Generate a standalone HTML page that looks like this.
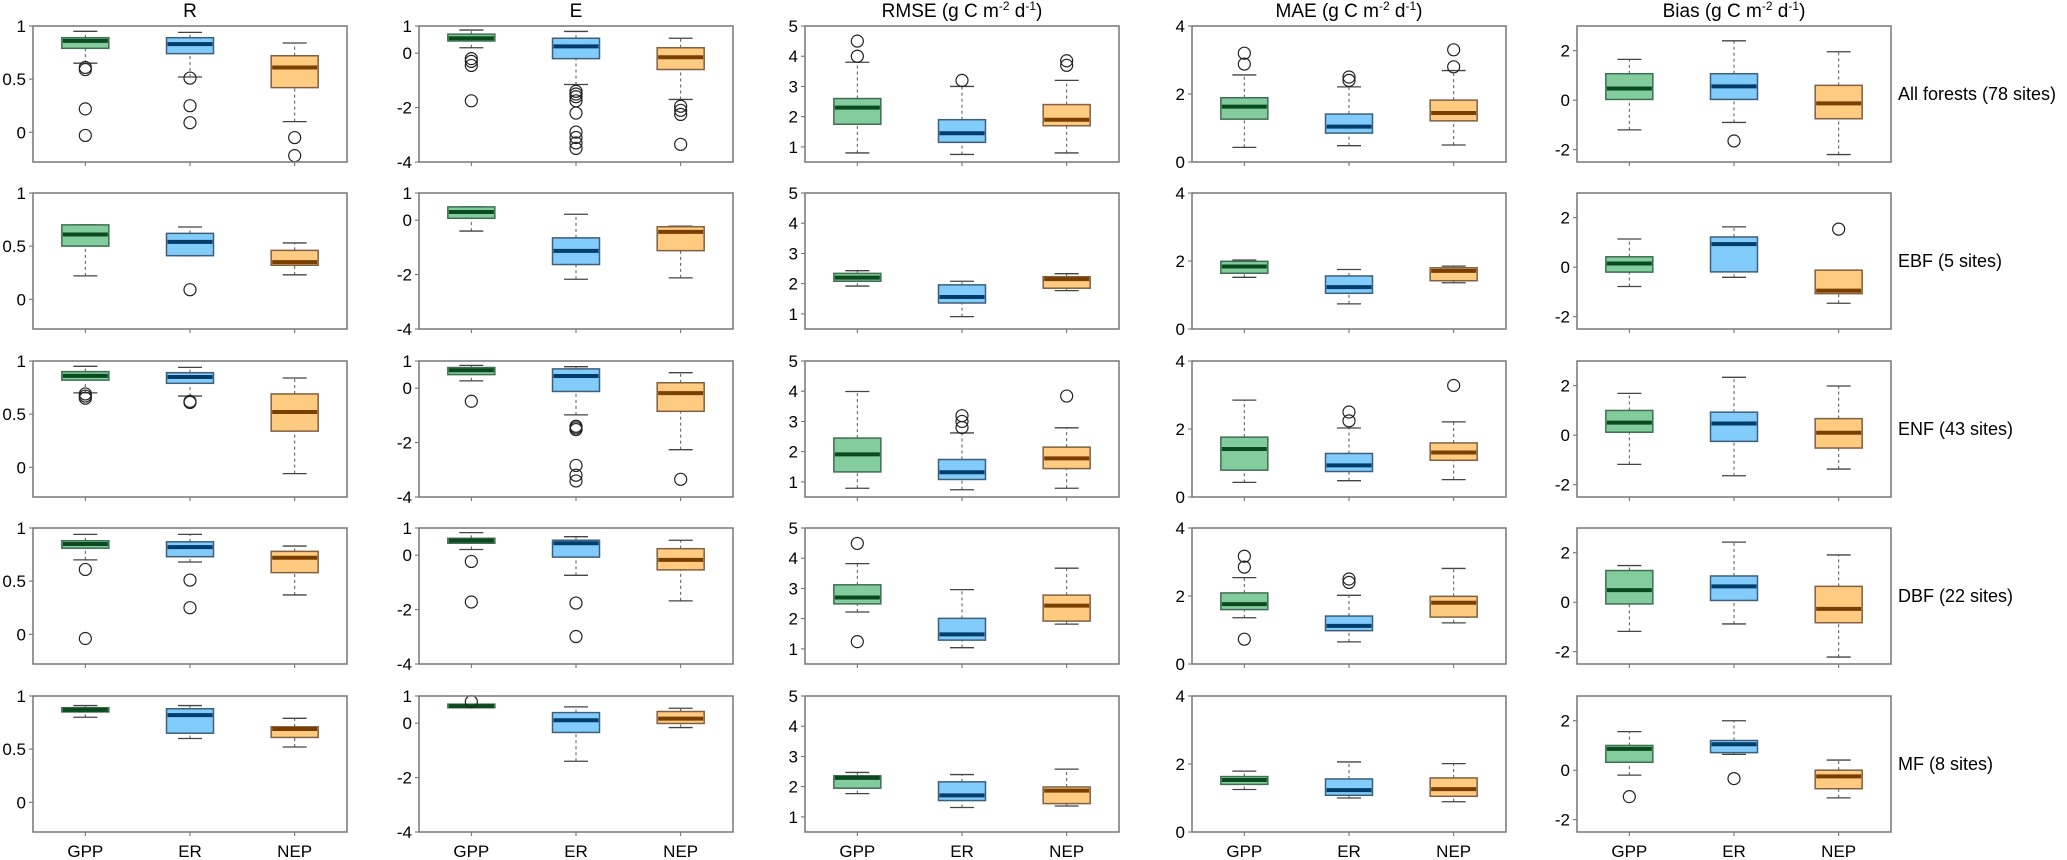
<!DOCTYPE html>
<html><head><meta charset="utf-8">
<style>
body{margin:0;background:#fff;width:2067px;height:860px;overflow:hidden;position:relative;font-family:"Liberation Sans",Arial,sans-serif;}
.ttl{position:absolute;top:1px;width:314px;text-align:center;font-size:19px;color:#000;}
.ttl sup{font-size:12px;vertical-align:7px;line-height:0}
svg{position:absolute;left:0;top:0}
</style></head><body>
<div class="ttl" style="left:33px">R</div>
<div class="ttl" style="left:419px">E</div>
<div class="ttl" style="left:805px">RMSE (g C m<sup>-2</sup> d<sup>-1</sup>)</div>
<div class="ttl" style="left:1192px">MAE (g C m<sup>-2</sup> d<sup>-1</sup>)</div>
<div class="ttl" style="left:1577px">Bias (g C m<sup>-2</sup> d<sup>-1</sup>)</div>
<svg id="chart" width="2067" height="860"></svg>
<script>
// categories
const groups = ["GPP","ER","NEP"];
const rowLabels = ["All forests (78 sites)","EBF (5 sites)","ENF (43 sites)","DBF (22 sites)","MF (8 sites)"];
const metrics = ["R","E","RMSE","MAE","Bias"];
// y-axis domains and ticks per metric
const yDomains = [[-0.28,1],[-4,1],[0.5,5],[0,4],[-2.5,3]];
const yTicks = [[0,0.5,1],[-4,-2,0,1],[1,2,3,4,5],[0,2,4],[-2,0,2]];
const yTickLabels = [["0","0.5","1"],["-4","-2","0","1"],["1","2","3","4","5"],["0","2","4"],["-2","0","2"]];
// stats: [whiskerLow, q1, median, q3, whiskerHigh] per row, per group
const R_stats = [
 [[0.65,0.79,0.86,0.89,0.95],[0.52,0.74,0.83,0.89,0.94],[0.10,0.42,0.61,0.72,0.84]],
 [[0.22,0.50,0.61,0.70,0.70],[0.41,0.41,0.54,0.62,0.68],[0.23,0.32,0.35,0.46,0.53]],
 [[0.70,0.82,0.86,0.90,0.95],[0.67,0.79,0.85,0.89,0.94],[-0.06,0.34,0.52,0.69,0.84]],
 [[0.70,0.81,0.85,0.88,0.94],[0.68,0.73,0.82,0.87,0.94],[0.37,0.58,0.72,0.78,0.83]],
 [[0.80,0.85,0.87,0.89,0.91],[0.60,0.65,0.82,0.88,0.91],[0.52,0.61,0.69,0.71,0.79]]];
const R_out = [
 [[0.61,0.59,0.22,-0.03],[0.51,0.25,0.09],[-0.05,-0.22]],
 [[],[0.09],[]],
 [[0.69,0.67,0.65],[0.62,0.61],[]],
 [[0.61,-0.04],[0.51,0.25],[]],
 [[],[],[]]];
const E_stats = [
 [[0.20,0.45,0.55,0.70,0.85],[-1.15,-0.20,0.25,0.55,0.80],[-1.70,-0.60,-0.15,0.20,0.55]],
 [[-0.40,0.07,0.30,0.49,0.49],[-2.17,-1.63,-1.13,-0.65,0.22],[-2.12,-1.12,-0.43,-0.24,-0.22]],
 [[0.27,0.50,0.66,0.76,0.84],[-0.98,-0.12,0.45,0.71,0.79],[-2.26,-0.85,-0.18,0.20,0.57]],
 [[0.21,0.44,0.54,0.62,0.83],[-0.74,-0.07,0.44,0.55,0.68],[-1.68,-0.54,-0.17,0.24,0.55]],
 [[0.57,0.57,0.63,0.70,0.70],[-1.40,-0.34,0.11,0.39,0.60],[-0.16,-0.01,0.17,0.43,0.55]]];
const E_out = [
 [[-0.2,-0.3,-0.45,-1.75],[-1.4,-1.5,-1.6,-1.75,-2.2,-2.9,-3.1,-3.3,-3.5],[-1.95,-2.1,-2.25,-3.35]],
 [[],[],[]],
 [[-0.48],[-1.4,-1.46,-1.52,-2.84,-3.2,-3.41],[-3.35]],
 [[-0.23,-1.72],[-1.76,-2.99],[]],
 [[0.79],[],[]]];
const RMSE_stats = [
 [[0.80,1.75,2.30,2.60,3.80],[0.75,1.15,1.45,1.90,3.00],[0.80,1.70,1.90,2.40,3.20]],
 [[1.92,2.08,2.20,2.34,2.43],[0.91,1.36,1.56,1.96,2.08],[1.77,1.85,2.15,2.23,2.33]],
 [[0.79,1.33,1.91,2.45,3.99],[0.74,1.08,1.32,1.74,2.62],[0.79,1.44,1.78,2.15,2.79]],
 [[2.22,2.49,2.70,3.12,3.82],[1.04,1.29,1.48,2.01,2.96],[1.82,1.92,2.43,2.78,3.67]],
 [[1.77,1.95,2.29,2.36,2.47],[1.31,1.54,1.71,2.16,2.40],[1.36,1.44,1.87,1.99,2.58]]];
const RMSE_out = [
 [[4.0,4.5],[3.2],[3.7,3.85]],
 [[],[],[]],
 [[],[2.8,3.0,3.19],[3.84]],
 [[4.49,1.24],[],[]],
 [[],[],[]]];
const MAE_stats = [
 [[0.43,1.26,1.63,1.89,2.56],[0.48,0.85,1.04,1.41,2.21],[0.50,1.21,1.44,1.82,2.69]],
 [[1.52,1.64,1.84,1.99,2.03],[0.74,1.05,1.23,1.56,1.75],[1.36,1.42,1.71,1.80,1.85]],
 [[0.43,0.79,1.41,1.76,2.85],[0.48,0.75,0.93,1.28,2.03],[0.51,1.08,1.31,1.59,2.21]],
 [[1.36,1.60,1.76,2.09,2.54],[0.65,0.98,1.12,1.41,2.02],[1.21,1.38,1.80,1.99,2.81]],
 [[1.25,1.40,1.53,1.63,1.79],[1.00,1.08,1.23,1.56,2.06],[0.89,1.05,1.26,1.59,2.01]]];
const MAE_out = [
 [[2.88,3.2],[2.4,2.5],[2.8,3.3]],
 [[],[],[]],
 [[],[2.24,2.5],[3.28]],
 [[3.17,2.85,0.73],[2.4,2.5],[]],
 [[],[],[]]];
const Bias_stats = [
 [[-1.20,0.03,0.47,1.07,1.65],[-0.90,0.03,0.56,1.07,2.40],[-2.20,-0.75,-0.13,0.60,1.96]],
 [[-0.78,-0.20,0.15,0.42,1.14],[-0.41,-0.19,0.93,1.22,1.63],[-1.46,-1.07,-0.95,-0.12,-0.12]],
 [[-1.18,0.12,0.51,1.00,1.69],[-1.64,-0.25,0.47,0.93,2.34],[-1.37,-0.52,0.10,0.67,1.99]],
 [[-1.18,-0.07,0.49,1.28,1.48],[-0.88,0.07,0.64,1.06,2.43],[-2.22,-0.83,-0.27,0.64,1.91]],
 [[-0.20,0.32,0.86,1.00,1.56],[0.64,0.71,1.05,1.20,2.00],[-1.12,-0.75,-0.25,0.00,0.41]]];
const Bias_out = [
 [[],[-1.65],[]],
 [[],[],[1.54]],
 [[],[],[]],
 [[],[],[]],
 [[-1.07],[-0.34],[]]];

const allStats = [R_stats,E_stats,RMSE_stats,MAE_stats,Bias_stats];
const allOut = [R_out,E_out,RMSE_out,MAE_out,Bias_out];
const fills = ["#82cc9e","#82ccfb","#fecb80"];
const meds = ["#0b4a1e","#003d6b","#7a3f00"];
const strokes = ["#3f6e50","#3d5f7a","#806040"];

const colLeft = [33,419,805,1192,1577];
const rowTop = [26,193,361,528,696];
const PW = 314, PH = 136, BW = 47;
const NS = "http://www.w3.org/2000/svg";
const svg = document.getElementById("chart");
function mk(tag, attrs, parent){
  const e = document.createElementNS(NS, tag);
  for (const k in attrs) e.setAttribute(k, attrs[k]);
  (parent||svg).appendChild(e);
  return e;
}
for (let c=0;c<5;c++){
  for (let r=0;r<5;r++){
    const x0 = colLeft[c], y0 = rowTop[r];
    const [d0,d1] = yDomains[c];
    const yS = v => y0 + PH - (v-d0)/(d1-d0)*PH;
    const xS = i => x0 + PW*(2*i+1)/6;
    const g = mk("g",{});
    
    
    // ticks
    yTicks[c].forEach((t,i)=>{
      const yy = yS(t);
      mk("line",{x1:x0-4,x2:x0,y1:yy,y2:yy,stroke:"#666","stroke-width":1},g);
      const tx = mk("text",{x:x0-7,y:yy+6,"text-anchor":"end","font-size":17,fill:"#000"},g);
      tx.textContent = yTickLabels[c][i];
      
      
    });
    groups.forEach((gn,i)=>{
      const cx = xS(i);
      mk("line",{x1:cx,x2:cx,y1:y0+PH,y2:y0+PH+4,stroke:"#666","stroke-width":1},g);
      if (r===4){
        const t = mk("text",{x:cx,y:857,"text-anchor":"middle","font-size":17,fill:"#000"},g);
        t.textContent = gn;
        
        
      }
      const s = allStats[c][r][i];
      const bg = mk("g",{},g);
      
      
      // whiskers
      mk("line",{x1:cx,x2:cx,y1:yS(s[0]),y2:yS(s[1]),stroke:"#555","stroke-width":1,"stroke-dasharray":"3,3"},bg);
      mk("line",{x1:cx,x2:cx,y1:yS(s[3]),y2:yS(s[4]),stroke:"#555","stroke-width":1,"stroke-dasharray":"3,3"},bg);
      mk("line",{x1:cx-12,x2:cx+12,y1:yS(s[0]),y2:yS(s[0]),stroke:"#444","stroke-width":1.3},bg);
      mk("line",{x1:cx-12,x2:cx+12,y1:yS(s[4]),y2:yS(s[4]),stroke:"#444","stroke-width":1.3},bg);
      mk("rect",{x:cx-BW/2,y:yS(s[3]),width:BW,height:Math.max(1,yS(s[1])-yS(s[3])),fill:fills[i],stroke:strokes[i],"stroke-width":1.5},bg);
      mk("line",{x1:cx-BW/2+1,x2:cx+BW/2-1,y1:yS(s[2]),y2:yS(s[2]),stroke:meds[i],"stroke-width":4},bg);
      allOut[c][r][i].forEach(v=>{
        const o = mk("circle",{cx:cx,cy:yS(v),r:6,fill:"none",stroke:"#222","stroke-width":1.2},bg);
        
        
      });
    });
    mk("rect",{x:x0,y:y0,width:PW,height:PH,fill:"none",stroke:"#777","stroke-width":1.5},g);
    if (c===4){
      const t = mk("text",{x:1898,y:y0+PH/2+6,"font-size":18,fill:"#000"},g);
      t.textContent = rowLabels[r];
      
      
    }
  }
}
</script>
</body></html>
